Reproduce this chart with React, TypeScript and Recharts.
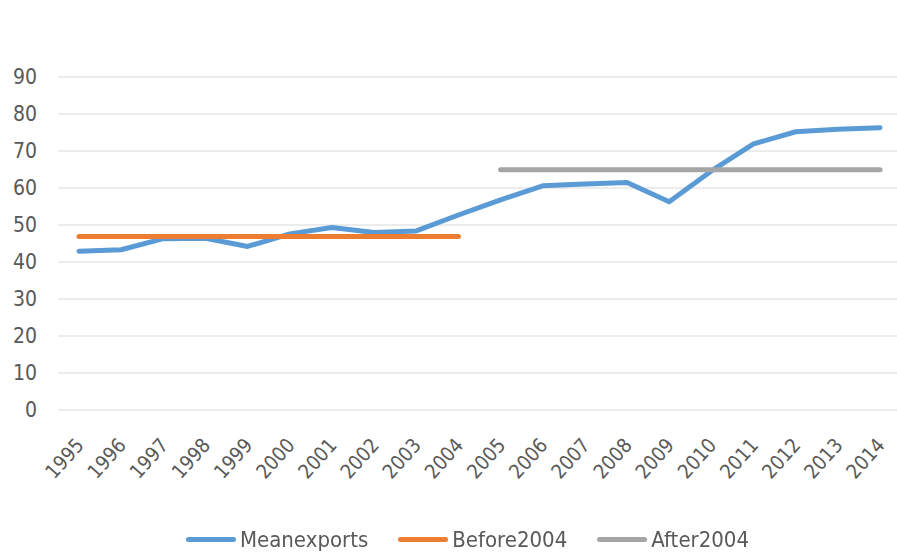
import { LineChart, Line, XAxis, YAxis, CartesianGrid, Legend } from "recharts";

const years = ["1995", "1996", "1997", "1998", "1999", "2000", "2001", "2002", "2003", "2004",
  "2005", "2006", "2007", "2008", "2009", "2010", "2011", "2012", "2013", "2014"];
const meanExports = [42.9, 43.3, 46.3, 46.4, 44.2, 47.6, 49.3, 48.0, 48.4, 52.7,
  56.8, 60.6, 61.1, 61.5, 56.3, 64.6, 71.9, 75.2, 75.9, 76.3];
const before2004 = [46.9, 46.9, 46.9, 46.9, 46.9, 46.9, 46.9, 46.9, 46.9, 46.9,
  null, null, null, null, null, null, null, null, null, null];
const after2004 = [null, null, null, null, null, null, null, null, null, null,
  64.9, 64.9, 64.9, 64.9, 64.9, 64.9, 64.9, 64.9, 64.9, 64.9];
const yTicks = [0, 10, 20, 30, 40, 50, 60, 70, 80, 90];

const data = years.map((year, i) => ({
  year,
  Meanexports: meanExports[i],
  Before2004: before2004[i],
  After2004: after2004[i],
}));

const font = '"Liberation Sans Narrow", "DejaVu Sans Condensed", "DejaVu Sans", sans-serif';
const textColor = "#595959";

const series = [
  { key: "Meanexports", color: "#5B9BD5" },
  { key: "Before2004", color: "#ED7D31" },
  { key: "After2004", color: "#A5A5A5" },
];

function YearTick(props: any) {
  const { x, y, payload } = props;
  const tx = x + 6;
  const ty = y + 28;
  return (
    <text
      x={tx}
      y={ty}
      textAnchor="end"
      fill={textColor}
      fontSize={20}
      fontFamily={font}
      style={{ fontStretch: "condensed" }}
      transform={`rotate(-48, ${tx}, ${ty})`}
    >
      {payload.value}
    </text>
  );
}

function LegendBox() {
  return (
    <div style={{ display: "flex", justifyContent: "center", gap: 30, fontFamily: font, fontStretch: "condensed", fontSize: 22, color: textColor, paddingTop: 14, paddingLeft: 34 }}>
      {series.map((s) => (
        <div key={s.key} style={{ display: "flex", alignItems: "center" }}>
          <span style={{ display: "inline-block", width: 50, height: 5, borderRadius: 3, background: s.color, marginRight: 4 }} />
          <span>{s.key}</span>
        </div>
      ))}
    </div>
  );
}

export default function App() {
  return (
    <div style={{ position: "fixed", left: 0, top: 0, background: "#fff" }}>
      <LineChart width={897} height={554} data={data} margin={{ top: 77, right: -4, left: 0, bottom: 0 }}>
        <CartesianGrid vertical={false} stroke="#D9D9D9" strokeWidth={1} />
        <XAxis
          dataKey="year"
          interval={0}
          axisLine={false}
          tickLine={false}
          height={103}
          padding={{ left: 21, right: 21 }}
          tick={<YearTick />}
        />
        <YAxis
          domain={[0, 90]}
          ticks={yTicks}
          width={58}
          axisLine={false}
          tickLine={false}
          tickSize={0}
          tickMargin={21}
          tick={{ fill: textColor, fontSize: 21, fontFamily: font, style: { fontStretch: "condensed" } }}
        />
        <Legend verticalAlign="bottom" height={41} content={<LegendBox />} />
        {series.map((s) => (
          <Line
            key={s.key}
            type="linear"
            dataKey={s.key}
            stroke={s.color}
            strokeWidth={5}
            strokeLinecap="round"
            strokeLinejoin="round"
            dot={false}
            activeDot={false}
            connectNulls={false}
            isAnimationActive={false}
          />
        ))}
      </LineChart>
    </div>
  );
}
